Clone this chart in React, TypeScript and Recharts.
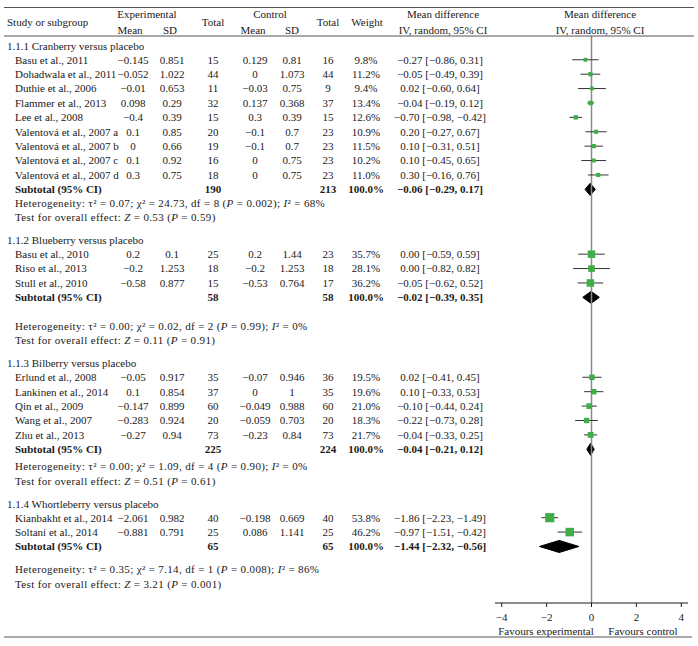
import React from 'react'
import { ComposedChart, XAxis, YAxis, Scatter, Area, ReferenceLine } from 'recharts'

document.body.style.margin = '0'

const groupTitles = [
  '1.1.1 Cranberry versus placebo',
  '1.1.2 Blueberry versus placebo',
  '1.1.3 Bilberry versus placebo',
  '1.1.4 Whortleberry versus placebo',
]

const studyGroup = [0, 0, 0, 0, 0, 0, 0, 0, 0, 1, 1, 1, 2, 2, 2, 2, 2, 3, 3]
const studyNames = [
  'Basu et al., 2011',
  'Dohadwala et al., 2011',
  'Duthie et al., 2006',
  'Flammer et al., 2013',
  'Lee et al., 2008',
  'Valentová et al., 2007 a',
  'Valentová et al., 2007 b',
  'Valentová et al., 2007 c',
  'Valentová et al., 2007 d',
  'Basu et al., 2010',
  'Riso et al., 2013',
  'Stull et al., 2010',
  'Erlund et al., 2008',
  'Lankinen et al., 2014',
  'Qin et al., 2009',
  'Wang et al., 2007',
  'Zhu et al., 2013',
  'Kianbakht et al., 2014',
  'Soltani et al., 2014',
]
const expMean = [-0.145, -0.052, -0.01, 0.098, -0.4, 0.1, 0, 0.1, 0.3, 0.2, -0.2, -0.58, -0.05, 0.1, -0.147, -0.283, -0.27, -2.061, -0.881]
const expSD = [0.851, 1.022, 0.653, 0.29, 0.39, 0.85, 0.66, 0.92, 0.75, 0.1, 1.253, 0.877, 0.917, 0.854, 0.899, 0.924, 0.94, 0.982, 0.791]
const expTotal = [15, 44, 11, 32, 15, 20, 19, 16, 18, 25, 18, 15, 35, 37, 60, 20, 73, 40, 25]
const ctlMean = [0.129, 0, -0.03, 0.137, 0.3, -0.1, -0.1, 0, 0, 0.2, -0.2, -0.53, -0.07, 0, -0.049, -0.059, -0.23, -0.198, 0.086]
const ctlSD = [0.81, 1.073, 0.75, 0.368, 0.39, 0.7, 0.7, 0.75, 0.75, 1.44, 1.253, 0.764, 0.946, 1, 0.988, 0.703, 0.84, 0.669, 1.141]
const ctlTotal = [16, 44, 9, 37, 15, 23, 23, 23, 23, 23, 18, 17, 36, 35, 60, 20, 73, 40, 25]
const weight = [9.8, 11.2, 9.4, 13.4, 12.6, 10.9, 11.5, 10.2, 11.0, 35.7, 28.1, 36.2, 19.5, 19.6, 21.0, 18.3, 21.7, 53.8, 46.2]
const meanDiff = [-0.27, -0.05, 0.02, -0.04, -0.7, 0.2, 0.1, 0.1, 0.3, 0, 0, -0.05, 0.02, 0.1, -0.1, -0.22, -0.04, -1.86, -0.97]
const ciLow = [-0.86, -0.49, -0.6, -0.19, -0.98, -0.27, -0.31, -0.45, -0.16, -0.59, -0.82, -0.62, -0.41, -0.33, -0.44, -0.73, -0.33, -2.23, -1.51]
const ciHigh = [0.31, 0.39, 0.64, 0.12, -0.42, 0.67, 0.51, 0.65, 0.76, 0.59, 0.82, 0.52, 0.45, 0.53, 0.24, 0.28, 0.25, -1.49, -0.42]

// subtotals per group
const subExpTotal = [190, 58, 225, 65]
const subCtlTotal = [213, 58, 224, 65]
const subMd = [-0.06, -0.02, -0.04, -1.44]
const subLow = [-0.29, -0.39, -0.21, -2.32]
const subHigh = [0.17, 0.35, 0.12, -0.56]
const tau2 = ['0.07', '0.00', '0.00', '0.35']
const chi2 = ['24.73', '0.02', '1.09', '7.14']
const hetDf = [8, 2, 4, 1]
const hetP = ['0.002', '0.99', '0.90', '0.008']
const iSq = [68, 0, 0, 86]
const zVal = ['0.53', '0.11', '0.51', '3.21']
const zP = ['0.59', '0.91', '0.61', '0.001']

const xTicks = [-4, -2, 0, 2, 4]

// layout (row units)
const W = 698
const H = 646
const TOP = 36
const ROW = 14.4
const PLOT_H = 567
const SPAN = PLOT_H / ROW
const HET_GAP = [0.95, 2.0, 1.2, 1.6]
const FONT = '"Liberation Serif", "Times New Roman", serif'
const INK = '#1a1a1a'
const GREEN = '#3fae49'

const yPx = (u: number) => TOP + u * ROW
const minus = (v: number | string) => String(v).replace('-', '\u2212')
const f2 = (v: number) => minus(v.toFixed(2))

type Row = { kind: string; g: number; i?: number; u: number }
const rows: Row[] = []
const studyRow: number[] = []
const subRow: number[] = []
{
  let u = 0.7
  for (let g = 0; g < groupTitles.length; g++) {
    rows.push({ kind: 'head', g, u })
    u += 0.95
    studyNames.forEach((_, i) => {
      if (studyGroup[i] !== g) return
      rows.push({ kind: 'study', g, i, u })
      studyRow[i] = u
      u += 1
    })
    rows.push({ kind: 'sub', g, u })
    subRow[g] = u
    u += HET_GAP[g]
    rows.push({ kind: 'het', g, u })
    u += 1
    rows.push({ kind: 'test', g, u })
    u += 1.6
  }
}

const points = studyNames.map((_, i) => ({ x: meanDiff[i], y: studyRow[i], w: weight[i] }))
const DIA = 0.42
const diamonds = subMd.map((m, g) => [
  { x: subLow[g], band: [subRow[g], subRow[g]] },
  { x: m, band: [subRow[g] - DIA, subRow[g] + DIA] },
  { x: subHigh[g], band: [subRow[g], subRow[g]] },
])

const Square = (props: any) => {
  const { cx, cy, payload } = props
  const s = 1.25 * Math.sqrt(payload.w)
  return <rect x={cx - s / 2} y={cy - s / 2} width={s} height={s} fill={GREEN} />
}

const col = { expMean: 133, expSD: 172, expTot: 213, ctlMean: 255, ctlSD: 292, ctlTot: 328, weight: 366, md: 440 }

function T(p: { x: number; y: number; a?: 'start' | 'middle' | 'end'; b?: boolean; children: React.ReactNode }) {
  return (
    <text x={p.x} y={p.y} dy="0.35em" textAnchor={p.a || 'middle'} fontWeight={p.b ? 'bold' : 'normal'}>
      {p.children}
    </text>
  )
}

function Table() {
  return (
    <svg width={W} height={H} style={{ position: 'absolute', left: 0, top: 0, pointerEvents: 'none' }} fontFamily={FONT} fontSize={11} fill={INK}>
      <line x1={4} x2={694} y1={7.5} y2={7.5} stroke="#555" />
      <line x1={4} x2={694} y1={36} y2={36} stroke="#555" />
      <line x1={4} x2={692} y1={637} y2={637} stroke="#555" />
      <T x={7} y={22} a="start">Study or subgroup</T>
      <T x={147} y={14}>Experimental</T>
      <T x={130} y={30}>Mean</T>
      <T x={170} y={30}>SD</T>
      <T x={213} y={22}>Total</T>
      <T x={270} y={14}>Control</T>
      <T x={253} y={30}>Mean</T>
      <T x={292} y={30}>SD</T>
      <T x={328} y={22}>Total</T>
      <T x={367} y={22}>Weight</T>
      <T x={443} y={14}>Mean difference</T>
      <T x={443} y={30}>IV, random, 95% CI</T>
      <T x={600} y={14}>Mean difference</T>
      <T x={600} y={30}>IV, random, 95% CI</T>
      {rows.map((r, k) => {
        const y = yPx(r.u)
        const g = r.g
        if (r.kind === 'head') return <T key={k} x={7} y={y} a="start">{groupTitles[g]}</T>
        if (r.kind === 'study') {
          const i = r.i as number
          return (
            <g key={k}>
              <T x={15} y={y} a="start">{studyNames[i]}</T>
              <T x={col.expMean} y={y}>{minus(expMean[i])}</T>
              <T x={col.expSD} y={y}>{expSD[i]}</T>
              <T x={col.expTot} y={y}>{expTotal[i]}</T>
              <T x={col.ctlMean} y={y}>{minus(ctlMean[i])}</T>
              <T x={col.ctlSD} y={y}>{ctlSD[i]}</T>
              <T x={col.ctlTot} y={y}>{ctlTotal[i]}</T>
              <T x={col.weight} y={y}>{weight[i].toFixed(1)}%</T>
              <T x={col.md} y={y}>{`${f2(meanDiff[i])} [${f2(ciLow[i])}, ${f2(ciHigh[i])}]`}</T>
            </g>
          )
        }
        if (r.kind === 'sub')
          return (
            <g key={k}>
              <T x={15} y={y} a="start" b>Subtotal (95% CI)</T>
              <T x={col.expTot} y={y} b>{subExpTotal[g]}</T>
              <T x={col.ctlTot} y={y} b>{subCtlTotal[g]}</T>
              <T x={col.weight} y={y} b>100.0%</T>
              <T x={col.md} y={y} b>{`${f2(subMd[g])} [${f2(subLow[g])}, ${f2(subHigh[g])}]`}</T>
            </g>
          )
        if (r.kind === 'het')
          return (
            <text key={k} x={15} y={y} dy="0.35em" letterSpacing={0.35}>
              {`Heterogeneity: \u03c4\u00b2 = ${tau2[g]}; \u03c7\u00b2 = ${chi2[g]}, df = ${hetDf[g]} (`}
              <tspan fontStyle="italic">P</tspan>
              {` = ${hetP[g]}); `}
              <tspan fontStyle="italic">I</tspan>
              {`\u00b2 = ${iSq[g]}%`}
            </text>
          )
        return (
          <text key={k} x={15} y={y} dy="0.35em" letterSpacing={0.35}>
            {'Test for overall effect: '}
            <tspan fontStyle="italic">Z</tspan>
            {` = ${zVal[g]} (`}
            <tspan fontStyle="italic">P</tspan>
            {` = ${zP[g]})`}
          </text>
        )
      })}
      <T x={546} y={631}>Favours experimental</T>
      <T x={643} y={631}>Favours control</T>
    </svg>
  )
}

export default function App() {
  return (
    <div style={{ position: 'relative', width: W, height: H, background: '#fff', fontFamily: FONT }}>
      <ComposedChart width={W} height={H} margin={{ top: TOP, right: 10, bottom: 13, left: 495 }}>
        <XAxis
          type="number"
          dataKey="x"
          domain={[-4.3, 4.3]}
          ticks={xTicks}
          height={30}
          allowDataOverflow
          tickFormatter={(v: number) => minus(v)}
          tick={{ fontSize: 11, fontFamily: FONT, fill: INK }}
          tickSize={4}
          tickMargin={6}
          axisLine={{ stroke: INK }}
          tickLine={{ stroke: INK }}
        />
        <YAxis type="number" dataKey="y" domain={[0, SPAN]} reversed hide width={0} allowDataOverflow />
        <ReferenceLine x={0} stroke="#8a8a8a" strokeWidth={1.5} />
        {studyNames.map((_, i) => (
          <ReferenceLine
            key={i}
            segment={[
              { x: ciLow[i], y: studyRow[i] },
              { x: ciHigh[i], y: studyRow[i] },
            ]}
            stroke="#333"
            strokeWidth={1}
          />
        ))}
        <Scatter data={points} shape={Square} isAnimationActive={false} />
        {diamonds.map((d, g) => (
          <Area
            key={g}
            data={d}
            dataKey="band"
            type="linear"
            stroke="#000"
            fill="#000"
            fillOpacity={1}
            dot={false}
            activeDot={false}
            isAnimationActive={false}
          />
        ))}
      </ComposedChart>
      <Table />
    </div>
  )
}
